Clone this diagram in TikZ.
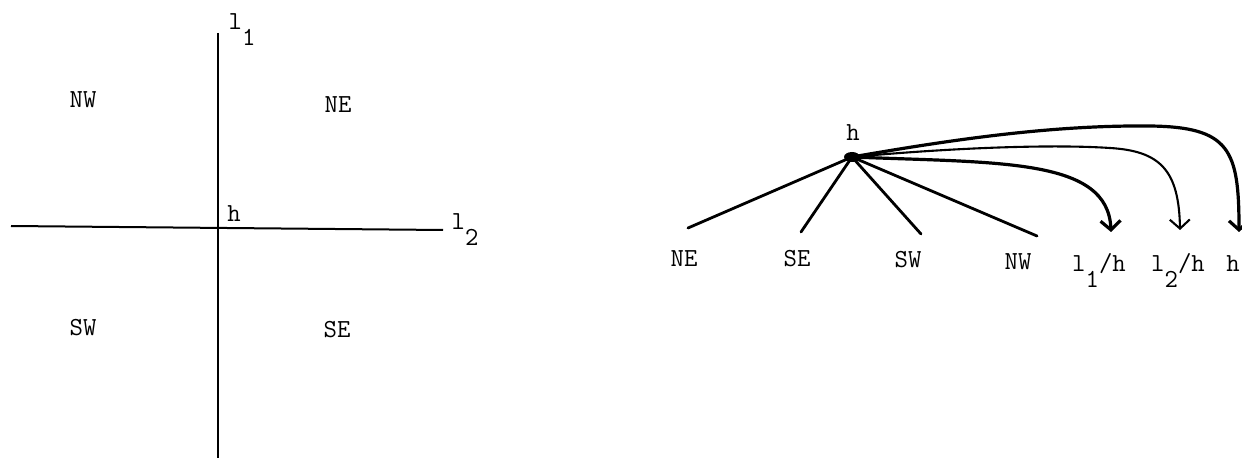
\documentclass[tikz,border=0pt]{standalone}
\usepackage{fontspec}
\usetikzlibrary{arrows.meta}
\newcommand{\lowsub}[1]{\raisebox{-0.6em}{#1}}
\begin{document}
\begin{tikzpicture}[x=1pt,y=-1pt,
  lbl/.style={inner sep=0pt,anchor=base,font=\ttfamily\fontsize{26}{30}\selectfont},
  axis/.style={line width=2pt},
  edge/.style={line width=2.8pt,line cap=round},
  ptrthick/.style={line width=3.2pt,-{Straight Barb[length=9pt,width=20pt]}},
  ptrthin/.style={line width=2.1pt,-{Straight Barb[length=9pt,width=20pt]}}]
\useasboundingbox (0,0) rectangle (1242,462);

% left: the two lines through h and the four quadrants
\coordinate (top) at (218,33);
\coordinate (bot) at (218,458);
\coordinate (lft) at (11,226);
\coordinate (rgt) at (443,230);
\draw[axis] (top) -- (bot);
\draw[axis] (lft) -- (rgt);
\node[lbl] (l1) at (242,30) {l\lowsub{1}};
\node[lbl] (l2) at (465,230) {l\lowsub{2}};
\node[lbl] (hx) at (234,222) {h};
\node[lbl] (qnw) at (83,108) {NW};
\node[lbl] (qne) at (338,113) {NE};
\node[lbl] (qsw) at (83,335) {SW};
\node[lbl] (qse) at (337,337) {SE};

% right: h with its four quadrant children and three pointers
\coordinate (hub) at (852,157);
\fill (hub) ellipse (8pt and 5pt);
\node[lbl] (hroot) at (853,141) {h};

\coordinate (cne) at (688,228);
\coordinate (cse) at (801,232);
\coordinate (csw) at (921,234);
\coordinate (cnw) at (1037,236);
\draw[edge] (hub) -- (cne);
\draw[edge] (hub) -- (cse);
\draw[edge] (hub) -- (csw);
\draw[edge] (hub) -- (cnw);

\node[lbl] (tne) at (684,267) {NE};
\node[lbl] (tse) at (797,267) {SE};
\node[lbl] (tsw) at (908,268) {SW};
\node[lbl] (tnw) at (1018,270) {NW};
\node[lbl] (tl1) at (1099,272) {l\lowsub{1}/h};
\node[lbl] (tl2) at (1178,272) {l\lowsub{2}/h};
\node[lbl] (th) at (1233,272) {h};

\coordinate (p1) at (1111,232);
\coordinate (p2) at (1180,230);
\coordinate (p3) at (1239,232);
\draw[ptrthick] (hub) .. controls (1000,163) and (1108,158) .. (p1);
\draw[ptrthin] (hub) .. controls (950,148) and (1050,144) .. (1110,148)
  .. controls (1160,151) and (1179,170) .. (p2);
\draw[ptrthick] (hub) .. controls (950,140) and (1050,125) .. (1150,126)
  .. controls (1230,127) and (1239,150) .. (p3);
\end{tikzpicture}
\end{document}
